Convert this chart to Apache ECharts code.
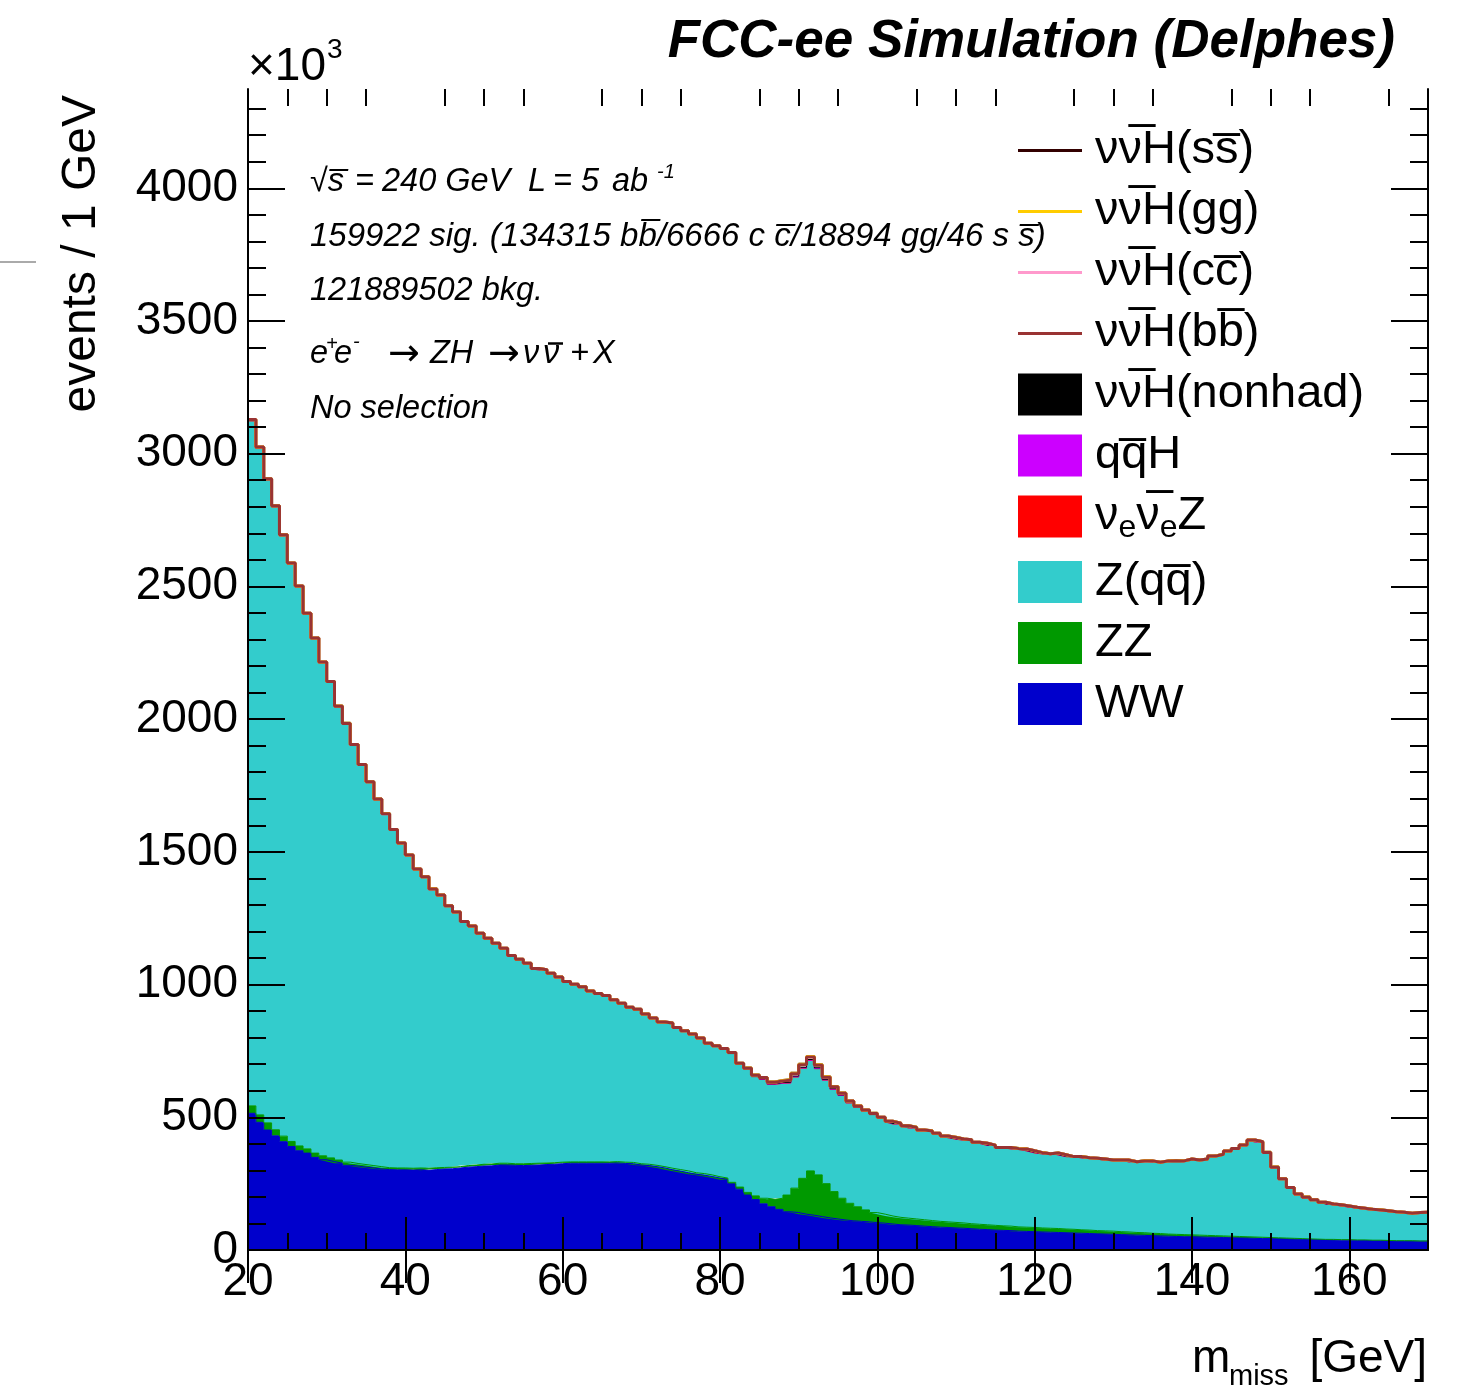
<!DOCTYPE html>
<html><head><meta charset="utf-8">
<script src="https://cdn.jsdelivr.net/npm/echarts@6/dist/echarts.min.js"></script>
<style>html,body{margin:0;padding:0;background:#fff}#c{width:1461px;height:1392px}</style>
</head><body><div id="c"></div>
<script>
// ---- bin edges (m_miss, GeV) ----
const massEdges = [20,21,22,23,24,25,26,27,28,29,30,31,32,33,34,35,36,37,38,39,
40,41,42,43,44,45,46,47,48,49,50,51,52,53,54,55,56,57,58,59,
60,61,62,63,64,65,66,67,68,69,70,71,72,73,74,75,76,77,78,79,
80,81,82,83,84,85,86,87,88,89,90,91,92,93,94,95,96,97,98,99,
100,101,102,103,104,105,106,107,108,109,110,111,112,113,114,115,116,117,118,119,
120,121,122,123,124,125,126,127,128,129,130,131,132,133,134,135,136,137,138,139,
140,141,142,143,144,145,146,147,148,149,150,151,152,153,154,155,156,157,158,159,
160,161,162,163,164,165,166,167,168,169,170];
// ---- axis ticks / labels ----
const xTickLabels = [20,40,60,80,100,120,140,160];
const xMinorTicks = [25,30,35,45,50,55,65,70,75,85,90,95,105,110,115,125,130,135,145,150,155,165];
const yTickLabels = [0,500,1000,1500,2000,2500,3000,3500,4000];
const yMinorTicks = [100,200,300,400,600,700,800,900,1100,1200,1300,1400,1600,1700,1800,1900,
2100,2200,2300,2400,2600,2700,2800,2900,3100,3200,3300,3400,3600,3700,3800,3900,4100,4200,4300];

// ---- events / 1 GeV (x10^3), one value per bin ----
const wwValues = [515,481,452,430,408,390,374,365,349,340,
333,327,319,316,312,309,305,303,302,302,
301,302,300,303,305,306,309,312,314,316,
317,320,320,319,318,319,320,322,323,325,
327,327,327,327,327,327,328,326,325,320,
318,314,309,302,297,291,285,282,277,271,
265,249,229,207,190,174,163,153,144,141,
135,131,126,121,117,113,110,108,106,103,
101,98,95,94,92,90,88,86,85,83,
82,80,78,77,75,74,73,71,70,69,
68,67,66,65,64,63,62,61,60,59,
58,57,56,55,54,53,52,51,50,50,
49,48,48,47,46,45,45,44,43,43,
42,41,41,40,39,39,38,38,37,37,
36,36,35,35,35,34,34,34,33,33];
const zzValues = [28,28,27,23,21,19,18,16,16,15,
14,12,12,10,10,9,9,7,7,7,
7,7,8,7,6,6,5,6,6,7,
7,7,7,6,7,7,7,6,6,6,
5,5,5,5,5,5,5,5,5,5,
5,5,5,6,6,7,6,6,6,5,
6,6,8,10,14,21,28,42,63,92,
135,167,157,129,103,82,66,55,45,38,
34,30,28,26,25,24,23,22,21,21,
20,19,19,18,18,17,17,16,16,16,
15,15,15,14,14,13,13,12,12,12,
11,11,10,10,9,9,8,8,8,7,
7,7,6,6,6,6,5,5,5,4,
4,4,3,3,3,2,2,2,2,2,
2,2,2,2,1,1,1,1,1,1];
const zqqValues = [2579,2509,2421,2345,2260,2173,2105,2013,1936,1855,
1790,1705,1648,1573,1503,1442,1381,1330,1271,1220,
1177,1123,1095,1047,1023,981,956,916,897,867,
847,825,806,781,767,751,730,725,711,695,
677,667,657,641,632,624,607,596,582,579,
563,552,542,544,532,525,519,507,492,490,
484,484,461,462,448,447,432,432,421,418,
414,415,399,389,384,386,377,373,370,368,
360,352,350,344,341,334,334,328,320,317,
313,313,306,304,299,292,293,292,292,286,
281,278,282,277,271,273,270,270,268,265,
267,268,264,268,270,266,273,275,275,283,
280,285,297,305,318,329,343,363,357,318,
264,221,189,166,155,146,138,131,129,125,
121,117,114,112,110,107,105,101,105,106];
const nueZValues = [1.5,1.5,1.5,1.5,1.5,1.5,1.5,1.5,1.5,1.5,
1.5,1.5,1.5,1.5,1.5,1.5,1.5,1.5,1.5,1.5,
1,1,1,1,1,1,1,1,1,1, 1,1,1,1,1,1,1,1,1,1,
1,1,1,1,1,1,1,1,1,1, 1,1,1,1,1,1,1,1,1,1,
1,1,1,1,1,1,1,1,1,1, 1,1,1,1,1,1,1,1,1,1,
1,1,1,1,1,1,1,1,1,1, 1,1,1,1,1,1,1,1,1,1,
1,1,1,1,1,1,1,1,1,1, 1,1,1,1,1,1,1,1,1,1,
1,1,1,1,1,1,1,1,1,1, 1,1,1,1,1,1,1,1,1,1,
1,1,1,1,1,1,1,1,1,1];
const qqHValues = [5,5,4,4,4,4,3,3,3,3,
3,3,3,3,2,2,2,2,2,2,
2,2,2,2,2,2,2,2,2,2,
2,2,2,2,2,2,2,1,1,1,
1,1,1,1,1,1,1,1,1,1, 1,1,1,1,1,1,1,1,1,1,
1,1,1,1,1,1,1,1,1,1, 1,1,1,1,1,1,1,1,1,1,
1,1,1,1,1,1,1,1,1,1, 1,1,1,1,1,1,1,1,1,1,
1,1,1,1,1,1,1,1,1,1, 1,1,1,1,1,1,1,1,1,1,
1,1,1,1,1,1,1,1,1,1,
0.5,0.5,0.5,0.5,0.5,0.5,0.5,0.5,0.5,0.5,
0.5,0.5,0.5,0.5,0.5,0.5,0.5,0.5,0.5,0.5];
const nonhadValues = [0.3,0.3,0.3,0.3,0.3,0.3,0.3,0.3,0.3,0.3,
0.3,0.3,0.3,0.3,0.3,0.3,0.3,0.3,0.3,0.3, 0.3,0.3,0.3,0.3,0.3,0.3,0.3,0.3,0.3,0.3,
0.3,0.3,0.3,0.3,0.3,0.3,0.3,0.3,0.3,0.3, 0.3,0.3,0.3,0.3,0.3,0.3,0.3,0.3,0.3,0.3,
0.3,0.3,0.3,0.3,0.3,0.3,0.3,0.3,0.3,0.3,
0.4,0.5,0.6,0.8,1,1.2,1.5,1.8,2.1,2.4,
2.6,2.7,2.5,2.2,1.9,1.6,1.3,1.1,0.9,0.8,
0.7,0.6,0.6,0.5,0.5,0.5,0.4,0.4,0.4,0.4,
0.3,0.3,0.3,0.3,0.3,0.3,0.3,0.3,0.3,0.3, 0.3,0.3,0.3,0.3,0.3,0.3,0.3,0.3,0.3,0.3,
0.3,0.3,0.3,0.3,0.3,0.3,0.3,0.3,0.3,0.3, 0.3,0.3,0.3,0.3,0.3,0.3,0.3,0.3,0.3,0.3,
0.3,0.3,0.3,0.3,0.3,0.3,0.3,0.3,0.3,0.3, 0.3,0.3,0.3,0.3,0.3,0.3,0.3,0.3,0.3,0.3];
const bbValues = [0.2,0.2,0.2,0.2,0.2,0.2,0.2,0.2,0.2,0.2,
0.2,0.2,0.2,0.2,0.2,0.2,0.2,0.2,0.2,0.2, 0.2,0.2,0.2,0.2,0.2,0.2,0.2,0.2,0.2,0.2,
0.2,0.2,0.2,0.2,0.2,0.2,0.2,0.2,0.2,0.2,
0.3,0.3,0.3,0.3,0.3,0.3,0.3,0.3,0.3,0.3,
0.5,0.5,0.6,0.7,0.8,0.9,1,1.2,1.4,1.6,
1.8,2.1,2.5,3,3.6,4.3,5.2,6.3,7.5,8.6,
9.5,9.8,9.2,8,6.8,5.6,4.6,3.8,3.2,2.7,
2.3,2,1.8,1.6,1.4,1.3,1.2,1.1,1,0.9,
0.8,0.8,0.7,0.7,0.7,0.6,0.6,0.6,0.6,0.5,
0.5,0.5,0.5,0.5,0.5,0.5,0.5,0.5,0.5,0.5,
0.4,0.4,0.4,0.4,0.4,0.4,0.4,0.4,0.4,0.4, 0.4,0.4,0.4,0.4,0.4,0.4,0.4,0.4,0.4,0.4,
0.3,0.3,0.3,0.3,0.3,0.3,0.3,0.3,0.3,0.3, 0.3,0.3,0.3,0.3,0.3,0.3,0.3,0.3,0.3,0.3];
const ccValues = [0.01,0.01,0.01,0.01,0.01,0.01,0.01,0.01,0.01,0.01,
0.01,0.01,0.01,0.01,0.01,0.01,0.01,0.01,0.01,0.01, 0.01,0.01,0.01,0.01,0.01,0.01,0.01,0.01,0.01,0.01,
0.01,0.01,0.01,0.01,0.01,0.01,0.01,0.01,0.01,0.01, 0.01,0.01,0.01,0.01,0.01,0.01,0.01,0.01,0.01,0.01,
0.01,0.01,0.01,0.01,0.01,0.01,0.01,0.01,0.01,0.01,
0.1,0.1,0.1,0.15,0.2,0.2,0.25,0.3,0.4,0.45,
0.5,0.5,0.45,0.4,0.35,0.3,0.25,0.2,0.15,0.15,
0.1,0.1,0.1,0.1,0.1,0.1,0.1,0.1,0.1,0.1,
0.03,0.03,0.03,0.03,0.03,0.03,0.03,0.03,0.03,0.03, 0.03,0.03,0.03,0.03,0.03,0.03,0.03,0.03,0.03,0.03,
0.03,0.03,0.03,0.03,0.03,0.03,0.03,0.03,0.03,0.03, 0.03,0.03,0.03,0.03,0.03,0.03,0.03,0.03,0.03,0.03,
0.03,0.03,0.03,0.03,0.03,0.03,0.03,0.03,0.03,0.03, 0.03,0.03,0.03,0.03,0.03,0.03,0.03,0.03,0.03,0.03];
const ggValues = [0.03,0.03,0.03,0.03,0.03,0.03,0.03,0.03,0.03,0.03,
0.03,0.03,0.03,0.03,0.03,0.03,0.03,0.03,0.03,0.03, 0.03,0.03,0.03,0.03,0.03,0.03,0.03,0.03,0.03,0.03,
0.03,0.03,0.03,0.03,0.03,0.03,0.03,0.03,0.03,0.03, 0.03,0.03,0.03,0.03,0.03,0.03,0.03,0.03,0.03,0.03,
0.03,0.03,0.03,0.03,0.03,0.03,0.03,0.03,0.03,0.03,
0.25,0.3,0.35,0.4,0.5,0.6,0.75,0.9,1.1,1.2,
1.35,1.4,1.3,1.15,0.95,0.8,0.65,0.55,0.45,0.4,
0.3,0.3,0.3,0.3,0.3,0.3,0.3,0.3,0.3,0.3,
0.1,0.1,0.1,0.1,0.1,0.1,0.1,0.1,0.1,0.1, 0.1,0.1,0.1,0.1,0.1,0.1,0.1,0.1,0.1,0.1,
0.1,0.1,0.1,0.1,0.1,0.1,0.1,0.1,0.1,0.1, 0.1,0.1,0.1,0.1,0.1,0.1,0.1,0.1,0.1,0.1,
0.1,0.1,0.1,0.1,0.1,0.1,0.1,0.1,0.1,0.1, 0.1,0.1,0.1,0.1,0.1,0.1,0.1,0.1,0.1,0.1];
const ssValues = [0,0,0,0,0,0,0,0,0,0, 0,0,0,0,0,0,0,0,0,0, 0,0,0,0,0,0,0,0,0,0,
0,0,0,0,0,0,0,0,0,0, 0,0,0,0,0,0,0,0,0,0, 0,0,0,0,0,0,0,0,0,0,
0,0,0,0,0.001,0.001,0.002,0.002,0.003,0.003,
0.004,0.004,0.004,0.003,0.003,0.002,0.002,0.001,0.001,0.001,
0,0,0,0,0,0,0,0,0,0, 0,0,0,0,0,0,0,0,0,0, 0,0,0,0,0,0,0,0,0,0,
0,0,0,0,0,0,0,0,0,0, 0,0,0,0,0,0,0,0,0,0, 0,0,0,0,0,0,0,0,0,0,
0,0,0,0,0,0,0,0,0,0];

const NAME_SS = 'νν\u0305H(ss\u0305)';
const NAME_GG = 'νν\u0305H(gg)';
const NAME_CC = 'νν\u0305H(cc\u0305)';
const NAME_BB = 'νν\u0305H(bb\u0305)';
const NAME_NONHAD = 'νν\u0305H(nonhad)';
const NAME_QQH = 'qq\u0305H';
const NAME_NUEZ = 'νeν\u0305eZ';
const NAME_ZQQ = 'Z(qq\u0305)';
const NAME_ZZ = 'ZZ';
const NAME_WW = 'WW';

const FONT = '"Liberation Sans", Arial, Helvetica, sans-serif';

// repeat last bin value at the upper edge so the step closes at 170
function closeStep(v) { return v.concat([v[v.length - 1]]); }

function areaSeries(name, values, color, z) {
  return {
    name: name, type: 'line', xAxisIndex: 0, yAxisIndex: 0, stack: 'mc', step: 'end',
    symbol: 'none', silent: true, z: z, data: closeStep(values),
    lineStyle: { width: 1, color: color }, itemStyle: { color: color },
    areaStyle: { color: color, opacity: 1 }
  };
}
function lineSeries(name, values, color, width, z) {
  return {
    name: name, type: 'line', xAxisIndex: 0, yAxisIndex: 0, stack: 'mc', step: 'end',
    symbol: 'none', silent: true, z: z, data: closeStep(values),
    lineStyle: { width: width, color: color }, itemStyle: { color: color }
  };
}

const tickStyle = { color: '#000', width: 2 };
function xValAxis(pos, ticks, len, labels, line) {
  return {
    type: 'value', position: pos, min: 20, max: 170, z: 10,
    axisLine: { show: line, lineStyle: { color: '#000', width: 2 } },
    axisTick: { show: true, inside: true, length: len, lineStyle: tickStyle, customValues: ticks },
    splitLine: { show: false },
    axisLabel: labels ? {
      show: true, margin: 9, fontSize: 46, fontFamily: FONT, color: '#000',
      customValues: xTickLabels, formatter: v => String(v)
    } : { show: false }
  };
}
function yValAxis(pos, ticks, len, labels, line) {
  return {
    type: 'value', position: pos, min: 0, max: 4374, z: 10,
    axisLine: { show: line, lineStyle: { color: '#000', width: 2 } },
    axisTick: { show: true, inside: true, length: len, lineStyle: tickStyle, customValues: ticks },
    splitLine: { show: false },
    axisLabel: labels ? {
      show: true, margin: 10, fontSize: 46, fontFamily: FONT, color: '#000',
      customValues: yTickLabels, formatter: v => String(v)
    } : { show: false }
  };
}

function txt(x, y, text, font, align, valign, extra) {
  return Object.assign({
    type: 'text', x: x, y: y, silent: true, z: 20,
    style: { text: text, font: font, fill: '#000', textAlign: align, textVerticalAlign: valign }
  }, extra || {});
}

const LINE_ICON = 'path://M0,0H64V3H0Z';
const it = 'italic 32.5px ' + FONT;
const sup = 'italic 20px ' + FONT;
const arrowFont = '38px "DejaVu Sans", sans-serif';

const option = {
  animation: false,
  backgroundColor: '#fff',
  grid: { left: 248, top: 89, width: 1180, height: 1161, show: false, outerBoundsMode: 'none', containLabel: false },
  xAxis: [
    { type: 'category', data: massEdges, boundaryGap: false, show: false },
    xValAxis('bottom', xTickLabels, 33, true, true),
    xValAxis('bottom', xMinorTicks, 17, false, false),
    xValAxis('top', xTickLabels, 33, false, true),
    xValAxis('top', xMinorTicks, 17, false, false)
  ],
  yAxis: [
    yValAxis('left', yTickLabels, 37, true, true),
    yValAxis('left', yMinorTicks, 18, false, false),
    yValAxis('right', yTickLabels, 37, false, true),
    yValAxis('right', yMinorTicks, 18, false, false)
  ],
  legend: {
    orient: 'vertical', left: 1018, top: 127, padding: 0, itemWidth: 64, itemHeight: 42, itemGap: 14,
    symbolKeepAspect: true, selectedMode: false,
    itemStyle: { borderWidth: 0 },
    textStyle: {
      fontSize: 47, lineHeight: 42, height: 42, fontFamily: FONT, color: '#000', padding: [0, 0, 0, 8],
      rich: {
        n: { fontSize: 47, height: 42, lineHeight: 42, fontFamily: FONT, color: '#000' },
        s: { fontSize: 32, height: 18, lineHeight: 42, verticalAlign: 'bottom', fontFamily: FONT, color: '#000' }
      }
    },
    formatter: function (name) {
      return name === NAME_NUEZ ? '{n|ν}{s|e}{n|ν\u0305}{s|e}{n|Z}' : '{n|' + name + '}';
    },
    data: [
      { name: NAME_SS, icon: LINE_ICON }, { name: NAME_GG, icon: LINE_ICON },
      { name: NAME_CC, icon: LINE_ICON }, { name: NAME_BB, icon: LINE_ICON },
      { name: NAME_NONHAD, icon: 'rect' }, { name: NAME_QQH, icon: 'rect' },
      { name: NAME_NUEZ, icon: 'rect' }, { name: NAME_ZQQ, icon: 'rect' },
      { name: NAME_ZZ, icon: 'rect' }, { name: NAME_WW, icon: 'rect' }
    ]
  },
  series: [
    areaSeries(NAME_WW, wwValues, '#0000cc', 2),
    areaSeries(NAME_ZZ, zzValues, '#009900', 2),
    areaSeries(NAME_ZQQ, zqqValues, '#33cccc', 2),
    areaSeries(NAME_NUEZ, nueZValues, '#ff0000', 2),
    areaSeries(NAME_QQH, qqHValues, '#cc00ff', 2),
    areaSeries(NAME_NONHAD, nonhadValues, '#000000', 2),
    lineSeries(NAME_BB, bbValues, '#993333', 3, 6),
    lineSeries(NAME_CC, ccValues, '#ff99cc', 3, 4),
    lineSeries(NAME_GG, ggValues, '#ffcc00', 3, 5),
    lineSeries(NAME_SS, ssValues, '#330000', 3, 3)
  ],
  graphic: [
    { type: 'line', silent: true, shape: { x1: 0, y1: 262, x2: 36, y2: 262 }, style: { stroke: '#aaaaaa', lineWidth: 2 } },
    txt(1395, 42, 'FCC-ee Simulation (Delphes)', 'italic bold 53px ' + FONT, 'right', 'middle'),
    txt(248, 67, '×10', '46px ' + FONT, 'left', 'middle'),
    txt(327, 50, '3', '28px ' + FONT, 'left', 'middle'),
    txt(82, 95, 'events / 1 GeV', '48px ' + FONT, 'right', 'middle', { rotation: Math.PI / 2 }),
    txt(1427, 1359, '[GeV]', '46px ' + FONT, 'right', 'middle'),
    txt(1192, 1359, 'm', '46px ' + FONT, 'left', 'middle'),
    txt(1229, 1377, 'miss', '29px ' + FONT, 'left', 'middle'),
    // line 1
    txt(310, 182, '√s\u0305', it, 'left', 'middle'),
    txt(355, 182, '=', it, 'left', 'middle'),
    txt(382, 182, '240 GeV', it, 'left', 'middle'),
    txt(528, 182, 'L', it, 'left', 'middle'),
    txt(553, 182, '= 5', it, 'left', 'middle'),
    txt(612, 182, 'ab', it, 'left', 'middle'),
    txt(657, 172, '-1', sup, 'left', 'middle'),
    // line 2, 3
    txt(310, 237, '159922 sig. (134315 bb\u0305/6666 c c\u0305/18894 gg/46 s s\u0305)', 'italic 33px ' + FONT, 'left', 'middle'),
    txt(310, 291, '121889502 bkg.', it, 'left', 'middle'),
    // line 4
    txt(310, 354, 'e', it, 'left', 'middle'),
    txt(326, 344, '+', sup, 'left', 'middle'),
    txt(334, 354, 'e', it, 'left', 'middle'),
    txt(353, 342, '-', sup, 'left', 'middle'),
    txt(388, 355, '→', arrowFont, 'left', 'middle'),
    txt(430, 354, 'ZH', it, 'left', 'middle'),
    txt(488, 355, '→', arrowFont, 'left', 'middle'),
    txt(523, 354, 'ν', it, 'left', 'middle'),
    txt(543, 354, 'ν', it, 'left', 'middle'),
    { type: 'line', silent: true, z: 20, shape: { x1: 548, y1: 343.5, x2: 563, y2: 343.5 }, style: { stroke: '#000', lineWidth: 2.5 } },
    txt(570, 354, '+', it, 'left', 'middle'),
    txt(593, 354, 'X', it, 'left', 'middle'),
    // line 5
    txt(310, 409, 'No selection', it, 'left', 'middle')
  ]
};

const chart = echarts.init(document.getElementById('c'), null, { renderer: 'canvas', width: 1461, height: 1392 });
chart.setOption(option);
</script>
</body></html>
